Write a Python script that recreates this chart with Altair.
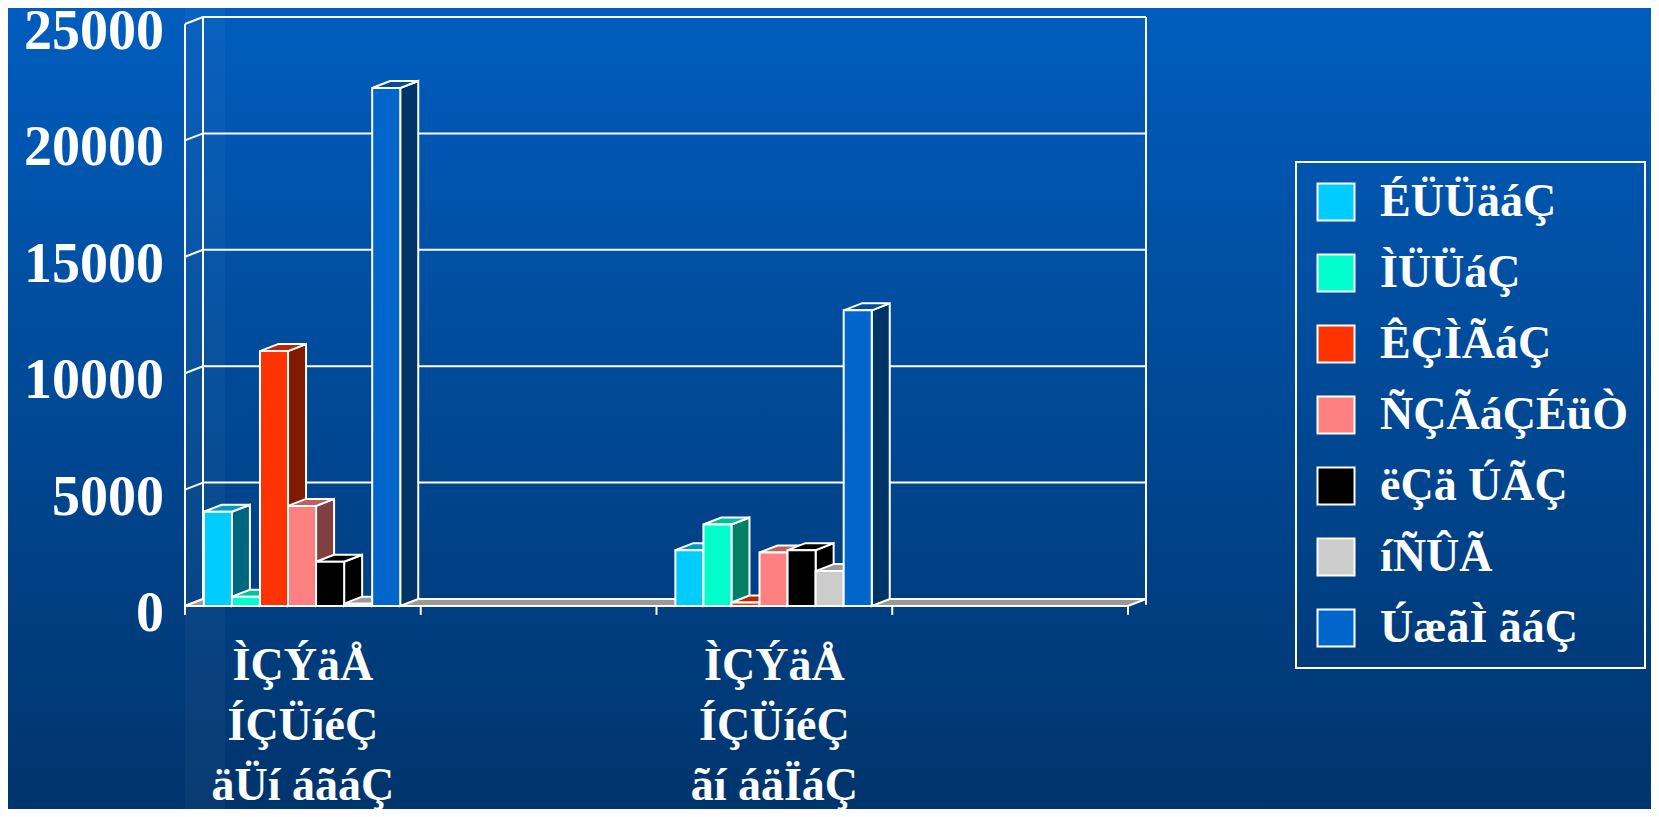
import altair as alt
import pandas as pd

# ---------------- data ----------------
category_labels = ["ÌÇÝäÅ\nÍÇÜíéÇ\näÜí áãáÇ", "", "ÌÇÝäÅ\nÍÇÜíéÇ\nãí áäÏáÇ", ""]
series_names = ["ÉÜÜäáÇ", "ÌÜÜáÇ", "ÊÇÌÃáÇ", "ÑÇÃáÇÉüÒ", "ëÇä ÚÃÇ", "íÑÛÃ", "ÚæãÌ ãáÇ"]
values_cat1 = [4050, 400, 10950, 4300, 1900, 100, 22250]
values_cat2 = [None, None, None, None, None, None, None]
values_cat3 = [2400, 3500, 150, 2300, 2400, 1500, 12700]
values_cat4 = [None, None, None, None, None, None, None]
y_ticks = [0, 5000, 10000, 15000, 20000, 25000]

front_colors = ["#00CCFF", "#00FFCC", "#FF3300", "#FF8080", "#000000", "#CCCCCC", "#0066CC"]
side_colors = ["#006680", "#008066", "#801A00", "#804040", "#000000", "#808080", "#003366"]
top_colors = ["#0099BF", "#00BF99", "#BF2600", "#BF6060", "#000000", "#9A9A9A", "#004C99"]

# ---------------- geometry of the pseudo-3D ----------------
N_CAT = 4
DX = 0.0764        # depth offset in category units
DY = 300           # depth offset in value units
BAR_W = 0.119
GROUP_OFF = 0.08
Y_MAX = 25000
TICK_DOWN = 380    # x-axis tick length, value units
W, H = 961, 589
PAD_L, PAD_T, PAD_R, PAD_B = 177, 9, 505, 203

xs = alt.Scale(domain=[0, N_CAT + DX], nice=False, zero=False)
ys = alt.Scale(domain=[0, Y_MAX + DY], nice=False, zero=False)

all_values = [values_cat1, values_cat2, values_cat3, values_cat4]
front_rows, side_rows, top_rows = [], [], []
for c, vals in enumerate(all_values):
    for i, v in enumerate(vals):
        if v is None:
            continue
        x0 = c + GROUP_OFF + i * BAR_W
        x1 = x0 + BAR_W
        bid = f"{c}-{i}"
        front_rows.append(dict(bar=bid, series=series_names[i], x0=x0, x1=x1, v=v))
        side_rows.append(dict(bar=bid, col=side_colors[i], xs=x1, ylo=0, yhi=v))
        side_rows.append(dict(bar=bid, col=side_colors[i], xs=x1 + DX, ylo=DY, yhi=v + DY))
        top_rows.append(dict(bar=bid, col=top_colors[i], yt=v, xl=x0, xr=x1))
        top_rows.append(dict(bar=bid, col=top_colors[i], yt=v + DY, xl=x0 + DX, xr=x1 + DX))

front_df = pd.DataFrame(front_rows)
side_df = pd.DataFrame(side_rows)
top_df = pd.DataFrame(top_rows)

# wall grid, wall edges, axis-to-wall connectors, front axis line, ticks
rule_rows = []
for t in y_ticks:
    rule_rows.append(dict(xa=DX, xb=N_CAT + DX, ya=t + DY, yb=t + DY))
    rule_rows.append(dict(xa=0, xb=DX, ya=t, yb=t + DY))
rule_rows.append(dict(xa=DX, xb=DX, ya=DY, yb=Y_MAX + DY))
rule_rows.append(dict(xa=N_CAT + DX, xb=N_CAT + DX, ya=DY - 250, yb=Y_MAX + DY))
rule_rows.append(dict(xa=0, xb=0, ya=-TICK_DOWN, yb=Y_MAX))
for c in range(N_CAT + 1):
    rule_rows.append(dict(xa=c, xb=c, ya=-TICK_DOWN, yb=0))
rule_df = pd.DataFrame(rule_rows)

ytick_df = pd.DataFrame({"t": y_ticks, "lab": [str(t) for t in y_ticks]})

floor_df = pd.DataFrame([dict(yf=0, xl=0, xr=N_CAT), dict(yf=DY, xl=DX, xr=N_CAT + DX)])
label_df = pd.DataFrame([dict(xc=c + 0.5, lab=l) for c, l in enumerate(category_labels) if l])

FONT = "Liberation Serif"

# ---------------- layers ----------------
one = pd.DataFrame({"a": [0]})
background = alt.Chart(one).mark_rect(
    fill=alt.Gradient(
        gradient="linear",
        stops=[alt.GradientStop(color="#005DBE", offset=0),
               alt.GradientStop(color="#00346C", offset=1)],
        x1=0, x2=0, y1=0, y2=1,
    )
).encode(
    x=alt.value(-PAD_L - 2), x2=alt.value(W + PAD_R + 2),
    y=alt.value(-PAD_T - 2), y2=alt.value(H + PAD_B + 2),
)
strip = alt.Chart(one).mark_rect(fill="white", opacity=0.035).encode(
    x=alt.value(0), x2=alt.value(40), y=alt.value(-PAD_T), y2=alt.value(H + PAD_B)
)

rules = alt.Chart(rule_df).mark_rule(color="white", strokeWidth=2).encode(
    x=alt.X("xa:Q", scale=xs, axis=None),
    x2="xb:Q",
    y=alt.Y("ya:Q", scale=ys, axis=None),
    y2="yb:Q",
)

# y tick labels (right-aligned to the left of the front axis)
ylabels = alt.Chart(ytick_df).mark_text(
    font=FONT, fontSize=56, fontWeight="bold", color="white",
    align="right", baseline="middle", dy=8,
).encode(
    x=alt.value(-21),
    y=alt.Y("t:Q", scale=ys, axis=None),
    text="lab:N",
)

floor = alt.Chart(floor_df).mark_area(
    orient="horizontal", color="#999999", stroke="white", strokeWidth=2, opacity=1
).encode(
    y=alt.Y("yf:Q", scale=ys, axis=None, stack=None),
    x=alt.X("xl:Q", scale=xs, stack=None, axis=None),
    x2="xr:Q",
)

sides = alt.Chart(side_df).mark_area(orient="vertical", stroke="white", strokeWidth=2, opacity=1).encode(
    x=alt.X("xs:Q", scale=xs, axis=None),
    y=alt.Y("yhi:Q", scale=ys, axis=None, stack=None),
    y2="ylo:Q",
    detail="bar:N",
    fill=alt.Fill("col:N", scale=None),
)

tops = alt.Chart(top_df).mark_area(orient="horizontal", stroke="white", strokeWidth=2, opacity=1).encode(
    y=alt.Y("yt:Q", scale=ys, axis=None),
    x=alt.X("xl:Q", scale=xs, axis=None, stack=None),
    x2="xr:Q",
    detail="bar:N",
    fill=alt.Fill("col:N", scale=None),
)

fronts = alt.Chart(front_df).mark_rect(stroke="white", strokeWidth=2, opacity=1).encode(
    x=alt.X("x0:Q", scale=xs, axis=None),
    x2="x1:Q",
    y=alt.Y("v:Q", scale=ys, axis=None),
    y2=alt.datum(0),
    color=alt.Color("series:N", scale=alt.Scale(domain=series_names, range=front_colors),
                    sort=series_names,
                    legend=alt.Legend(
                        title=None, orient="none", legendX=1111, legendY=145,
                        symbolType="square", symbolSize=1369, symbolStrokeColor="white",
                        symbolStrokeWidth=2, symbolOpacity=1,
                        labelFont=FONT, labelFontWeight="bold", labelFontSize=46,
                        labelColor="white", labelLimit=0, labelOffset=21,
                        rowPadding=25, padding=17, strokeColor="white",
                    )),
)

labels = alt.Chart(label_df).mark_text(
    lineBreak="\n", font=FONT, fontSize=46, fontWeight="bold", color="white",
    baseline="middle", align="center", lineHeight=60,
).encode(
    x=alt.X("xc:Q", scale=xs, axis=None),
    y=alt.value(649),
    text="lab:N",
)

chart = alt.layer(
    background, strip, rules, ylabels, floor, sides, tops, fronts, labels
).properties(
    width=W, height=H,
    autosize=alt.AutoSizeParams(type="none"),
    padding={"left": PAD_L, "top": PAD_T, "right": PAD_R, "bottom": PAD_B},
    background="#00479A",
).configure_view(stroke=None).configure_legend(strokeWidth=2)

chart.save("out.html", embed_options={"renderer": "svg", "actions": False})
